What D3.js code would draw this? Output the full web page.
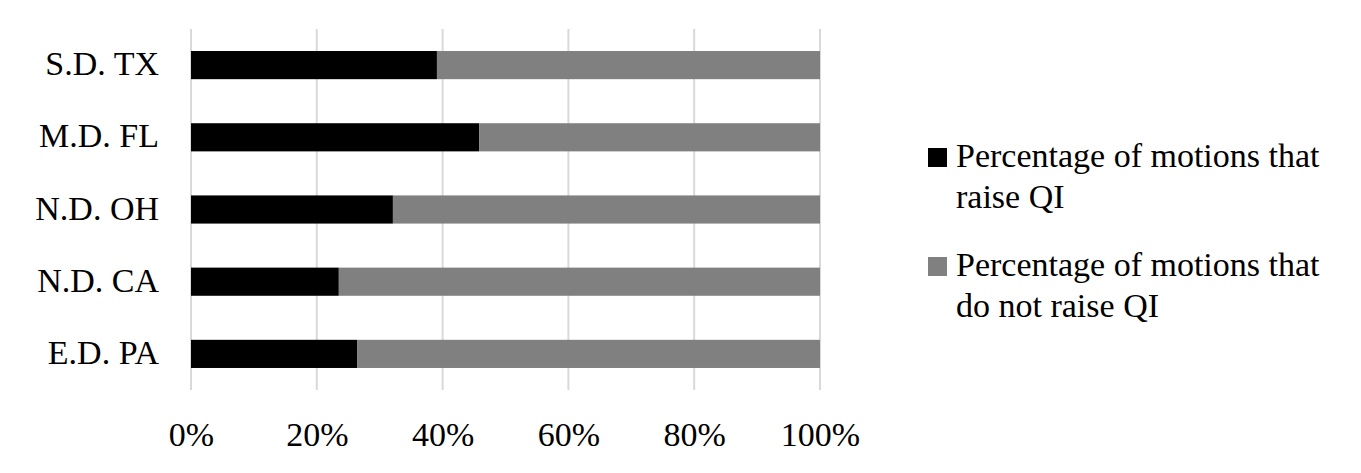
<!DOCTYPE html>
<html><head><meta charset="utf-8">
<script src="https://cdn.jsdelivr.net/npm/d3@7"></script>
<style>body{margin:0;background:#fff}svg{display:block}</style>
</head><body>
<script>
const categories = ["S.D. TX", "M.D. FL", "N.D. OH", "N.D. CA", "E.D. PA"];
const raiseQI = [39.1, 45.8, 32.1, 23.5, 26.4];
const notRaiseQI = [60.9, 54.2, 67.9, 76.5, 73.6];
const seriesNames = [["Percentage of motions that", "raise QI"], ["Percentage of motions that", "do not raise QI"]];
const colors = ["#000000", "#808080"];
const ticks = [0, 20, 40, 60, 80, 100];

const W = 1361, H = 473;
const font = "'Liberation Serif', 'Times New Roman', serif";
const FS = 34;
const svg = d3.select("body").append("svg").attr("width", W).attr("height", H);

const x = d3.scaleLinear().domain([0, 100]).range([191, 820]);
const y = d3.scaleBand().domain(categories).range([29, 390]).paddingInner(0.61).paddingOuter(0.305);

// gridlines
svg.append("g").selectAll("line").data(ticks).join("line")
  .attr("x1", d => x(d)).attr("x2", d => x(d)).attr("y1", 29).attr("y2", 390)
  .attr("stroke", "#d9d9d9").attr("stroke-width", 2);

const stack = categories.map((c, i) => ({c, a: raiseQI[i], b: notRaiseQI[i]}));
const g = svg.append("g");
g.selectAll("rect.a").data(stack).join("rect").attr("class", "a")
  .attr("x", x(0)).attr("y", d => y(d.c)).attr("width", d => x(d.a) - x(0)).attr("height", y.bandwidth())
  .attr("fill", colors[0]);
g.selectAll("rect.b").data(stack).join("rect").attr("class", "b")
  .attr("x", d => x(d.a)).attr("y", d => y(d.c)).attr("width", d => x(d.a + d.b) - x(d.a)).attr("height", y.bandwidth())
  .attr("fill", colors[1]);

// category axis
const yAxis = d3.axisLeft(y).tickSize(0).tickPadding(0);
const ya = svg.append("g").attr("transform", "translate(159,0)").call(yAxis);
ya.select(".domain").remove();
ya.selectAll("text").attr("font-family", font).attr("font-size", FS).attr("fill", "#000").attr("dy", 10);

// x axis
const xAxis = d3.axisBottom(x).tickValues(ticks).tickSize(0).tickPadding(0).tickFormat(d => d + "%");
const xa = svg.append("g").attr("transform", "translate(0,446)").call(xAxis);
xa.select(".domain").remove();
xa.selectAll("text").attr("font-family", font).attr("font-size", FS).attr("fill", "#000").attr("dy", 0);

// legend
const leg = svg.append("g");
const legY = [148, 257];
seriesNames.forEach((lines, i) => {
  leg.append("rect").attr("x", 928).attr("y", legY[i]).attr("width", 19).attr("height", 19).attr("fill", colors[i]);
  lines.forEach((t, j) => {
    leg.append("text").attr("x", 956).attr("y", legY[i] + 19 + j * 41)
      .attr("font-family", font).attr("font-size", FS).attr("fill", "#000").text(t);
  });
});
</script>
</body></html>
